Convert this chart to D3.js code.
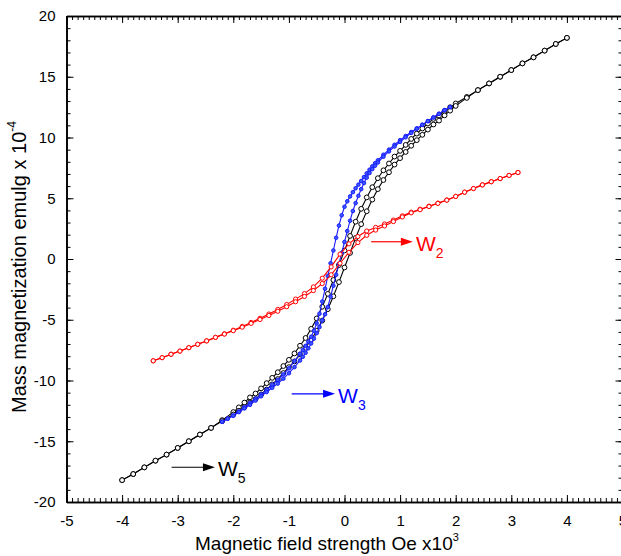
<!DOCTYPE html>
<html>
<head>
<meta charset="utf-8">
<script src="https://cdn.jsdelivr.net/npm/d3@7"></script>
<style>
  body { margin: 0; background: #fff; }
  svg { display: block; font-family: "Liberation Sans", Arial, sans-serif; }
</style>
</head>
<body>
<div id="graph-container"></div>
<script>
// W5 - black
const blackField = [4.0, 3.8, 3.6, 3.4, 3.2, 3.0, 2.8, 2.6, 2.4, 2.2,
    2.0, 1.9, 1.8, 1.7, 1.6, 1.5, 1.4, 1.3, 1.2, 1.1,
    1.0, 0.9, 0.8, 0.7, 0.6, 0.5, 0.4, 0.3, 0.2, 0.1,
    0.0, -0.1, -0.2, -0.3, -0.4, -0.5, -0.6, -0.7, -0.8, -0.9,
    -1.0, -1.1, -1.2, -1.3, -1.4, -1.5, -1.6, -1.7, -1.8, -1.9,
    -2.0, -2.2, -2.4, -2.6, -2.8, -3.0, -3.2, -3.4, -3.6, -3.8, -4.0];
const blackDown = [18.2, 17.7, 17.15, 16.6, 16.1, 15.55, 15.0, 14.45, 13.9, 13.34,
    12.8, 12.49, 12.18, 11.81, 11.53, 11.15, 10.74, 10.32, 9.88, 9.39,
    8.9, 8.43, 7.86, 7.3, 6.65, 5.91, 5.07, 4.13, 3.07, 1.9,
    0.7, -0.5, -1.73, -2.87, -3.93, -4.89, -5.75, -6.5, -7.14, -7.77,
    -8.3, -8.81, -9.32, -9.78, -10.22, -10.65, -11.07, -11.39, -11.82, -12.21,
    -12.6, -13.26, -13.9, -14.45, -15.0, -15.55, -16.1, -16.6, -17.15, -17.7, -18.2];
const blackUp = [18.2, 17.7, 17.15, 16.6, 16.1, 15.55, 15.0, 14.45, 13.9, 13.26,
    12.6, 12.21, 11.82, 11.39, 11.07, 10.65, 10.22, 9.78, 9.32, 8.81,
    8.3, 7.77, 7.14, 6.5, 5.75, 4.89, 3.93, 2.87, 1.73, 0.5,
    -0.7, -1.9, -3.07, -4.13, -5.07, -5.91, -6.65, -7.3, -7.86, -8.43,
    -8.9, -9.39, -9.88, -10.32, -10.74, -11.15, -11.53, -11.81, -12.18, -12.49,
    -12.8, -13.34, -13.9, -14.45, -15.0, -15.55, -16.1, -16.6, -17.15, -17.7, -18.2];

// W3 - blue
const blueField = [-2.2, -2.1, -2.0, -1.9, -1.8, -1.7, -1.6, -1.5, -1.4, -1.3,
    -1.2, -1.1, -1.0, -0.9, -0.8, -0.75, -0.7, -0.65, -0.6, -0.55,
    -0.5, -0.45, -0.4, -0.35, -0.3, -0.25, -0.2, -0.15, -0.1, -0.05,
    0.0, 0.05, 0.1, 0.15, 0.2, 0.25, 0.3, 0.35, 0.4, 0.45,
    0.5, 0.55, 0.6, 0.7, 0.8, 0.9, 1.0, 1.1, 1.2, 1.3,
    1.4, 1.5, 1.6, 1.7, 1.8, 1.9];
const blueDown = [-13.4, -13.14, -12.88, -12.55, -12.2, -11.85, -11.5, -11.15, -10.75, -10.35,
    -9.95, -9.5, -9.0, -8.4, -7.8, -7.5, -7.15, -6.8, -6.4, -5.9,
    -5.3, -4.5, -3.5, -2.45, -1.4, -0.35, 0.7, 1.75, 2.75, 3.6,
    4.3, 4.75, 5.15, 5.5, 5.82, 6.12, 6.42, 6.74, 7.05, 7.35,
    7.62, 7.88, 8.12, 8.58, 9.0, 9.4, 9.78, 10.12, 10.45, 10.75,
    11.05, 11.35, 11.65, 11.95, 12.25, 12.5];
const blueUp = [-13.4, -13.15, -12.9, -12.6, -12.3, -12.0, -11.65, -11.3, -10.95, -10.6,
    -10.25, -9.85, -9.4, -8.9, -8.35, -8.05, -7.72, -7.35, -6.95, -6.55,
    -6.1, -5.6, -5.05, -4.55, -3.95, -3.1, -2.2, -1.3, -0.4, 0.5,
    1.4, 2.3, 3.15, 3.95, 4.6, 5.2, 5.75, 6.25, 6.7, 7.08,
    7.4, 7.68, 7.94, 8.42, 8.86, 9.26, 9.64, 10.02, 10.38, 10.72,
    11.04, 11.35, 11.65, 11.95, 12.25, 12.5];

// W2 - red
const redField = [-3.44, -3.28, -3.12, -2.96, -2.80, -2.64, -2.48, -2.32, -2.16, -2.00,
    -1.84, -1.68, -1.52, -1.36, -1.20, -1.04, -0.88, -0.72, -0.56, -0.40,
    -0.24, -0.08, 0.08, 0.24, 0.40, 0.56, 0.72, 0.88, 1.04, 1.20,
    1.36, 1.52, 1.68, 1.84, 2.00, 2.16, 2.32, 2.48, 2.64, 2.80, 2.96, 3.12];
const redDown = [-8.38, -8.12, -7.84, -7.58, -7.30, -7.02, -6.74, -6.45, -6.16, -5.86,
    -5.55, -5.22, -4.88, -4.53, -4.15, -3.75, -3.30, -2.85, -2.30, -1.58,
    -0.65, 0.40, 1.25, 1.85, 2.30, 2.60, 2.88, 3.20, 3.55, 3.85,
    4.10, 4.35, 4.60, 4.86, 5.15, 5.50, 5.80, 6.10, 6.36, 6.62, 6.88, 7.12];
const redUp = [-8.38, -8.12, -7.84, -7.58, -7.30, -7.02, -6.74, -6.45, -6.18, -5.90,
    -5.61, -5.30, -4.98, -4.65, -4.30, -3.93, -3.52, -3.08, -2.60, -2.02,
    -1.30, -0.35, 0.55, 1.35, 1.95, 2.38, 2.72, 3.08, 3.46, 3.80,
    4.06, 4.32, 4.58, 4.84, 5.15, 5.50, 5.80, 6.10, 6.36, 6.62, 6.88, 7.12];

const xMajor = [-5, -4, -3, -2, -1, 0, 1, 2, 3, 4, 5];
const yMajor = [-20, -15, -10, -5, 0, 5, 10, 15, 20];

// sample labels: arrow start / end field, arrow height, name, subscript
const sampleNames = ["W", "W", "W"];
const sampleSubs = ["2", "3", "5"];
const arrowFrom = [0.48, -0.95, -3.11];
const arrowTo = [1.23, -0.17, -2.33];
const arrowAt = [1.42, -11.1, -17.14];

const width = 621;
const height = 556;
const marginTop = 16;
const marginRight = -1.5;
const marginBottom = 54;
const marginLeft = 66.5;

const svg = d3.select("#graph-container").append("svg")
    .attr("width", width)
    .attr("height", height)
    .attr("viewBox", [0, 0, width, height]);

const x = d3.scaleLinear()
    .domain([-5, 5])
    .range([marginLeft, width - marginRight]);

const y = d3.scaleLinear()
    .domain([-20, 20])
    .range([height - marginBottom, marginTop]);

const xMinor = d3.range(-50, 51).map(i => i / 10);
const yMinor = d3.range(-20, 21);
const fmt = d => String(d);

// Frame with inward ticks on all four sides.
function styleAxis(g) {
    g.select(".domain").attr("stroke-width", 1.6);
    g.selectAll(".tick line").attr("stroke-width", 1);
    g.selectAll(".tick text").attr("font-size", 15).attr("font-family", "Liberation Sans, Arial, sans-serif").attr("fill", "#000");
}

svg.append("g")
    .attr("transform", `translate(0,${y(-20)})`)
    .call(d3.axisBottom(x).tickValues(xMinor).tickSize(-4).tickSizeOuter(0).tickFormat(""))
    .call(styleAxis);
svg.append("g")
    .attr("transform", `translate(0,${y(-20)})`)
    .call(d3.axisBottom(x).tickValues(xMajor).tickSize(-7).tickSizeOuter(0).tickPadding(13).tickFormat(fmt))
    .call(styleAxis);

svg.append("g")
    .attr("transform", `translate(0,${y(20)})`)
    .call(d3.axisTop(x).tickValues(xMinor).tickSize(-4).tickSizeOuter(0).tickFormat(""))
    .call(styleAxis);
svg.append("g")
    .attr("transform", `translate(0,${y(20)})`)
    .call(d3.axisTop(x).tickValues(xMajor).tickSize(-7).tickSizeOuter(0).tickFormat(""))
    .call(styleAxis);

svg.append("g")
    .attr("transform", `translate(${x(-5)},0)`)
    .call(d3.axisLeft(y).tickValues(yMinor).tickSize(-4).tickSizeOuter(0).tickFormat(""))
    .call(styleAxis);
svg.append("g")
    .attr("transform", `translate(${x(-5)},0)`)
    .call(d3.axisLeft(y).tickValues(yMajor).tickSize(-7).tickSizeOuter(0).tickPadding(11).tickFormat(fmt))
    .call(styleAxis);

svg.append("g")
    .attr("transform", `translate(${x(5)},0)`)
    .call(d3.axisRight(y).tickValues(yMinor).tickSize(-4).tickSizeOuter(0).tickFormat(""))
    .call(styleAxis);
svg.append("g")
    .attr("transform", `translate(${x(5)},0)`)
    .call(d3.axisRight(y).tickValues(yMajor).tickSize(-7).tickSizeOuter(0).tickFormat(""))
    .call(styleAxis);

// Axis titles
svg.append("text")
    .attr("x", 195)
    .attr("y", 550)
    .attr("font-size", 19)
    .attr("fill", "#000")
    .text("Magnetic field strength Oe x10")
    .append("tspan")
    .attr("dy", -9)
    .attr("font-size", 11)
    .text("3");

svg.append("text")
    .attr("transform", "translate(26,413) rotate(-90)")
    .attr("font-size", 20)
    .attr("fill", "#000")
    .text("Mass magnetization emulg x 10")
    .append("tspan")
    .attr("dy", -10)
    .attr("font-size", 12)
    .text("-4");

// Loops
const line = d3.line()
    .x(d => x(d[0]))
    .y(d => y(d[1]));

const series = [
    {field: blackField, branches: [blackDown, blackUp], color: "#000", fill: "#fff", r: 2.4},
    {field: blueField, branches: [blueDown, blueUp], color: "#1a1aff", fill: "#3a5cff", r: 1.8},
    {field: redField, branches: [redDown, redUp], color: "#ff0000", fill: "#fff", r: 2.1}
];

series.forEach(s => {
    const g = svg.append("g");
    s.branches.forEach(b => {
        const pts = d3.zip(s.field, b);
        g.append("path")
            .attr("d", line(pts))
            .attr("fill", "none")
            .attr("stroke", s.color)
            .attr("stroke-width", 1.1);
        g.append("g")
            .selectAll("circle")
            .data(pts)
            .join("circle")
            .attr("cx", d => x(d[0]))
            .attr("cy", d => y(d[1]))
            .attr("r", s.r)
            .attr("fill", s.fill)
            .attr("stroke", s.color)
            .attr("stroke-width", 1);
    });
});

// Arrow labels
const labelColors = ["#ff0000", "#0000ff", "#000"];
sampleNames.forEach((name, i) => {
    const x0 = x(arrowFrom[i]), x1 = x(arrowTo[i]), yy = y(arrowAt[i]);
    svg.append("line")
        .attr("x1", x0).attr("x2", x1 - 10)
        .attr("y1", yy).attr("y2", yy)
        .attr("stroke", labelColors[i])
        .attr("stroke-width", 1.2);
    svg.append("path")
        .attr("d", `M${x1},${yy}L${x1 - 12},${yy - 4}L${x1 - 12},${yy + 4}Z`)
        .attr("fill", labelColors[i]);
    svg.append("text")
        .attr("x", x1 + 3)
        .attr("y", yy + 9)
        .attr("font-size", 21)
        .attr("fill", labelColors[i])
        .text(name)
        .append("tspan")
        .attr("dy", 7)
        .attr("font-size", 14)
        .text(sampleSubs[i]);
});
</script>
</body>
</html>
